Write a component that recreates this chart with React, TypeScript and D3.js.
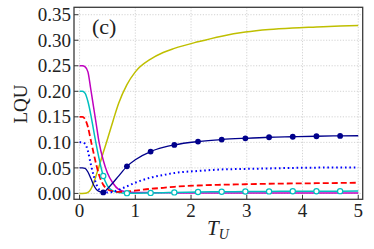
import * as d3 from 'd3';

// T_U grid and the LQU curves
const tu = [0, 0.05, 0.1, 0.15, 0.2, 0.25, 0.3, 0.35, 0.425, 0.5, 0.6, 0.7, 0.85, 1.0, 1.275, 1.5, 1.7, 2.125, 2.55, 2.975, 3.4, 3.825, 4.25, 4.675, 5.0];

const yellowLqu = [0, 0, 0.0003, 0.002, 0.008, 0.02, 0.036, 0.053, 0.08, 0.106, 0.142, 0.176, 0.213, 0.238, 0.263, 0.276, 0.284, 0.297, 0.308, 0.316, 0.321, 0.324, 0.326, 0.328, 0.329];
const magentaLqu = [0.25, 0.25, 0.248, 0.238, 0.205, 0.17, 0.135, 0.1, 0.065, 0.04, 0.02, 0.008, 0.003, 0.002, 0.0015, 0.0012, 0.001, 0.001, 0.001, 0.001, 0.001, 0.001, 0.001, 0.001, 0.001];
const cyanLqu = [0.2, 0.2, 0.196, 0.18, 0.155, 0.125, 0.095, 0.068, 0.034, 0.015, 0.005, 0.0018, 0.0005, 0.0005, 0.001, 0.0015, 0.002, 0.0028, 0.0033, 0.0037, 0.004, 0.0042, 0.0044, 0.0045, 0.0046];
const redLqu = [0.15, 0.15, 0.145, 0.13, 0.105, 0.08, 0.056, 0.036, 0.017, 0.008, 0.004, 0.003, 0.004, 0.0055, 0.009, 0.011, 0.013, 0.0155, 0.017, 0.018, 0.019, 0.0195, 0.02, 0.0205, 0.021];
const blueLqu = [0.1, 0.1, 0.097, 0.083, 0.058, 0.036, 0.018, 0.008, 0.004, 0.002, 0.003, 0.007, 0.014, 0.021, 0.031, 0.036, 0.04, 0.044, 0.047, 0.048, 0.049, 0.05, 0.0505, 0.051, 0.051];
const navyLqu = [0.05, 0.05, 0.049, 0.042, 0.03, 0.017, 0.008, 0.004, 0.002, 0.009, 0.021, 0.034, 0.053, 0.066, 0.082, 0.09, 0.095, 0.1015, 0.1055, 0.108, 0.11, 0.111, 0.112, 0.1127, 0.113];

const markerTu = [0.425, 0.85, 1.275, 1.7, 2.125, 2.55, 2.975, 3.4, 3.825, 4.25, 4.675];

const xTicks = [0, 1, 2, 3, 4, 5];
const yTicks = [0, 0.05, 0.1, 0.15, 0.2, 0.25, 0.3, 0.35];

const W = 374;
const H = 249;
const plot = { left: 74, right: 362.7, top: 7.3, bottom: 199.3 };
const serif = "'Liberation Serif', serif";

export default function App() {
  const x = d3.scaleLinear().domain([-0.1, 5.08]).range([plot.left, plot.right]);
  const y = d3.scaleLinear().domain([-0.0115, 0.3645]).range([plot.bottom, plot.top]);

  const line = (vals: number[]) =>
    d3
      .line<number>()
      .x((_, i) => x(tu[i]))
      .y((d) => y(d))
      .curve(d3.curveMonotoneX)(vals) || '';

  const markerIdx = markerTu.map((m) => tu.indexOf(m));

  const series = [
    { vals: yellowLqu, color: '#bfbf00', dash: undefined, width: 1.5 },
    { vals: magentaLqu, color: '#bf00bf', dash: undefined, width: 1.5 },
    { vals: cyanLqu, color: '#00bfbf', dash: undefined, width: 1.5 },
    { vals: redLqu, color: '#ff0000', dash: '6,3', width: 1.8 },
    { vals: blueLqu, color: '#0000ff', dash: '1.6,2.8', width: 2 },
    { vals: navyLqu, color: '#00008b', dash: undefined, width: 1.3 },
  ];

  return (
    <svg width={W} height={H} style={{ position: 'absolute', left: 0, top: 0, background: '#fff' }}>
      <defs>
        <clipPath id="plotArea">
          <rect x={plot.left} y={plot.top} width={plot.right - plot.left} height={plot.bottom - plot.top} />
        </clipPath>
      </defs>

      {/* grid */}
      {xTicks.map((t) => (
        <line key={'gx' + t} x1={x(t)} x2={x(t)} y1={plot.top} y2={plot.bottom}
          stroke="#c8c8c8" strokeWidth={0.8} strokeDasharray="1.2,1.6" />
      ))}
      {yTicks.map((t) => (
        <line key={'gy' + t} x1={plot.left} x2={plot.right} y1={y(t)} y2={y(t)}
          stroke="#c8c8c8" strokeWidth={0.8} strokeDasharray="1.2,1.6" />
      ))}

      {/* curves */}
      <g clipPath="url(#plotArea)">
        {series.map((s, i) => (
          <path key={i} d={line(s.vals)} fill="none" stroke={s.color}
            strokeWidth={s.width} strokeDasharray={s.dash} />
        ))}
        {markerIdx.map((k) => (
          <circle key={'c' + k} cx={x(tu[k])} cy={y(cyanLqu[k])} r={2.6}
            fill="#fff" stroke="#00bfbf" strokeWidth={1.2} />
        ))}
        {markerIdx.map((k) => (
          <circle key={'n' + k} cx={x(tu[k])} cy={y(navyLqu[k])} r={2.9} fill="#00008b" />
        ))}
      </g>

      {/* frame and ticks */}
      <rect x={plot.left} y={plot.top} width={plot.right - plot.left} height={plot.bottom - plot.top}
        fill="none" stroke="#3a3a3a" strokeWidth={1.3} />
      {xTicks.map((t) => (
        <line key={'tx' + t} x1={x(t)} x2={x(t)} y1={plot.bottom} y2={plot.bottom - 4.5} stroke="#3a3a3a" strokeWidth={1} />
      ))}
      {yTicks.map((t) => (
        <line key={'ty' + t} x1={plot.left} x2={plot.left + 4.5} y1={y(t)} y2={y(t)} stroke="#3a3a3a" strokeWidth={1} />
      ))}

      {/* tick labels */}
      {xTicks.map((t) => (
        <text key={'lx' + t} x={x(t)} y={217} textAnchor="middle" style={{ fontFamily: serif, fontSize: 19 }} fill="#222">
          {t}
        </text>
      ))}
      {yTicks.map((t) => (
        <text key={'ly' + t} x={71} y={y(t)} dy="0.35em" textAnchor="end" style={{ fontFamily: serif, fontSize: 19 }} fill="#222">
          {t.toFixed(2)}
        </text>
      ))}

      {/* axis titles */}
      <text x={207} y={235} style={{ fontFamily: serif, fontSize: 21, fontStyle: 'italic' }} fill="#222">
        T<tspan dy={4} style={{ fontSize: 14 }}>U</tspan>
      </text>
      <text transform="translate(27,104) rotate(-90)" textAnchor="middle" style={{ fontFamily: serif, fontSize: 19 }} fill="#222">
        LQU
      </text>
      <text x={92} y={34} style={{ fontFamily: serif, fontSize: 22 }} fill="#222">
        (c)
      </text>
    </svg>
  );
}
